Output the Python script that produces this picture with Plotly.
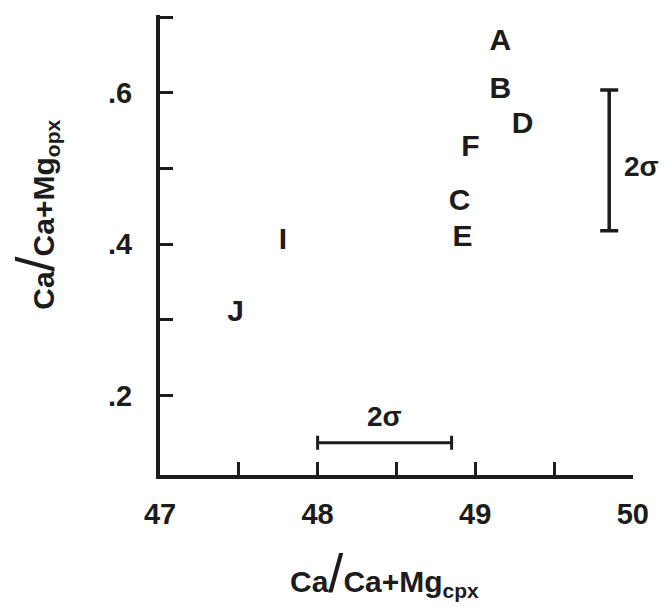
import plotly.graph_objects as go

# Data
labels = ["A", "B", "C", "D", "E", "F", "I", "J"]
x_cpx = [49.16, 49.16, 48.90, 49.30, 48.92, 48.97, 47.78, 47.48]
y_opx = [0.666, 0.603, 0.455, 0.557, 0.407, 0.527, 0.404, 0.308]

# 2-sigma error indicators
sig_y_center = [49.85, 0.511]
sig_y_half = 0.093
sig_x_center = [48.425, 0.1375]
sig_x_half = 0.425

x_tickvals = [47, 48, 49, 50]
x_ticktext = ["47", "48", "49", "50"]
x_minorvals = [47.5, 48.5, 49.5]
y_tickvals = [0.2, 0.4, 0.6]
y_ticktext = [".2", ".4", ".6"]
y_minorvals = [0.3, 0.5, 0.7]

INK = "#1c1c1c"
FONT = "Liberation Sans"
SLASH = '<span style="font-size:54px;font-weight:normal">/</span>'

fig = go.Figure()

fig.add_trace(go.Scatter(
    x=x_cpx, y=y_opx, mode="text", text=labels,
    textposition="middle center",
    textfont=dict(family=FONT, size=30, color=INK, weight="bold"),
    showlegend=False, hoverinfo="skip"))

fig.add_trace(go.Scatter(
    x=[sig_y_center[0]], y=[sig_y_center[1]], mode="markers",
    marker=dict(size=1, color="rgba(0,0,0,0)"),
    error_y=dict(type="data", array=[sig_y_half], visible=True,
                 color=INK, thickness=3.5, width=9),
    showlegend=False, hoverinfo="skip"))

fig.add_trace(go.Scatter(
    x=[sig_x_center[0]], y=[sig_x_center[1]], mode="markers",
    marker=dict(size=1, color="rgba(0,0,0,0)"),
    error_x=dict(type="data", array=[sig_x_half], visible=True,
                 color=INK, thickness=3, width=7),
    showlegend=False, hoverinfo="skip"))

fig.add_annotation(x=sig_y_center[0], y=sig_y_center[1], text="2σ",
                   xref="x", yref="y", xanchor="left", yanchor="middle",
                   xshift=13, yshift=-6,
                   showarrow=False,
                   font=dict(family=FONT, size=28, color=INK, weight="bold"))
fig.add_annotation(x=sig_x_center[0], y=sig_x_center[1], text="2σ",
                   xref="x", yref="y", yanchor="bottom", yshift=9,
                   showarrow=False,
                   font=dict(family=FONT, size=28, color=INK, weight="bold"))

# axis titles
fig.add_annotation(xref="paper", yref="paper", x=0.475, y=-0.213,
                   xanchor="center", yanchor="middle", showarrow=False,
                   text='Ca' + SLASH + 'Ca+Mg<sub>cpx</sub>',
                   font=dict(family=FONT, size=30, color=INK, weight="bold"))
fig.add_annotation(xref="paper", yref="paper", x=-0.265, y=0.565,
                   xanchor="center", yanchor="middle",
                   textangle=-90, showarrow=False,
                   text='Ca' + SLASH + 'Ca+Mg<sub>opx</sub>',
                   font=dict(family=FONT, size=30, color=INK, weight="bold"))

fig.update_layout(
    width=669, height=607,
    margin=dict(l=160, r=36, t=15, b=132),
    paper_bgcolor="white", plot_bgcolor="white",
    font=dict(family=FONT, color=INK),
    xaxis=dict(range=[47, 50.001], showgrid=False, zeroline=False,
               automargin=False,
               showline=True, linewidth=4, linecolor=INK,
               ticks="inside", ticklen=13, tickwidth=3, tickcolor=INK,
               tickvals=x_tickvals, ticktext=x_ticktext,
               minor=dict(ticks="inside", ticklen=13, tickwidth=3,
                          tickcolor=INK, tickvals=x_minorvals, showgrid=False),
               ticklabelstandoff=10,
               tickfont=dict(family=FONT, size=29, color=INK, weight="bold")),
    yaxis=dict(range=[0.095, 0.703], showgrid=False, zeroline=False,
               automargin=False,
               showline=True, linewidth=4, linecolor=INK,
               ticks="inside", ticklen=13, tickwidth=3, tickcolor=INK,
               tickvals=y_tickvals, ticktext=y_ticktext,
               minor=dict(ticks="inside", ticklen=13, tickwidth=3,
                          tickcolor=INK, tickvals=y_minorvals, showgrid=False),
               ticklabelstandoff=18,
               tickfont=dict(family=FONT, size=29, color=INK, weight="bold")),
)

fig.write_html("out.html")
